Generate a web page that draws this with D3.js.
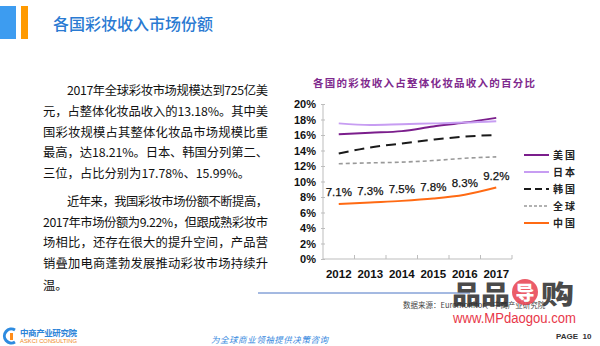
<!DOCTYPE html>
<html><head><meta charset="utf-8">
<script src="https://cdn.jsdelivr.net/npm/d3@7"></script>
<style>
html,body{margin:0;padding:0;background:#fff;}
svg{display:block;}
</style></head>
<body>
<svg id="c" width="600" height="346"></svg>
<script>
const years = ["2012","2013","2014","2015","2016","2017"];
const usa    = [16.1, 16.3, 16.5, 17.1, 17.6, 18.21];
const japan  = [17.5, 17.3, 17.4, 17.5, 17.6, 17.78];
const korea  = [13.6, 14.4, 14.9, 15.4, 15.8, 15.99];
const globalV= [12.3, 12.4, 12.5, 12.7, 13.0, 13.18];
const china  = [7.1, 7.3, 7.5, 7.8, 8.3, 9.22];
const seriesNames = ["美国","日本","韩国","全球","中国"];
const yTicks = [0,2,4,6,8,10,12,14,16,18,20];
const paragraphLines = [
  "2017年全球彩妆市场规模达到725亿美",
  "元，占整体化妆品收入的13.18%。其中美",
  "国彩妆规模占其整体化妆品市场规模比重",
  "最高，达18.21%。日本、韩国分列第二、",
  "三位，占比分别为17.78%、15.99%。",
  "近年来，我国彩妆市场份额不断提高，",
  "2017年市场份额为9.22%，但跟成熟彩妆市",
  "场相比，还存在很大的提升空间，产品营",
  "销叠加电商蓬勃发展推动彩妆市场持续升",
  "温。"
];

const svg = d3.select("#c");
const CJK = "'Noto Sans CJK SC', 'Noto Sans', sans-serif";
const ARIAL = "'Liberation Sans', Arial, sans-serif";

// header
svg.append("rect").attr("x",0).attr("y",6).attr("width",16).attr("height",33).attr("fill","#3d9cf0");
svg.append("rect").attr("x",21).attr("y",6).attr("width",7).attr("height",33).attr("fill","#ff9a00");
svg.append("text").attr("x",53).attr("y",30).text("各国彩妆收入市场份额")
  .attr("font-family",CJK).attr("font-size",16).attr("font-weight",500).attr("fill","#2a7ad2");

// paragraph
const lineY = [90,111,132,152,173,201,222,242,263,285];
const indent = [true,false,false,false,false,true,false,false,false,false];
const justify = [true,true,true,true,false,true,true,true,true,false];
paragraphLines.forEach((t,i)=>{
  const x0 = indent[i] ? 67 : 43;
  const tx = svg.append("text").attr("x",x0).attr("y",lineY[i]+5).text(t)
    .attr("font-family",CJK).attr("font-size",12.3).attr("fill","#111");
  if (justify[i]) tx.attr("textLength",268-x0).attr("lengthAdjust","spacing");
});

// chart
const x = d3.scaleBand().domain(years).range([323,512]);
const y = d3.scaleLinear().domain([0,20]).range([259,104]);
const cx = d => x(d) + x.bandwidth()/2;

svg.append("text").attr("x",313).attr("y",87).text("各国的彩妆收入占整体化妆品收入的百分比")
  .attr("font-family",CJK).attr("font-size",10.5).attr("font-weight",700).attr("fill","#7f2a8e")
  .attr("textLength",222).attr("lengthAdjust","spacing");

const yAxis = d3.axisLeft(y).tickValues(yTicks).tickFormat(d=>d+"%").tickSize(3).tickPadding(5);
const gy = svg.append("g").attr("transform","translate(323,0)").call(yAxis);
gy.select(".domain").attr("stroke","#bdbdbd").attr("d","M0,104V259");
gy.selectAll(".tick line").attr("stroke","#bdbdbd").attr("x2",2).attr("x1",-2);
gy.selectAll(".tick text").attr("font-family",ARIAL).attr("font-size",11).attr("font-weight",700).attr("fill","#111").attr("x",-7);

const xAxis = d3.axisBottom(x).tickSize(0).tickPadding(9);
const gx = svg.append("g").attr("transform","translate(0,259)").call(xAxis);
gx.select(".domain").attr("stroke","#bdbdbd").attr("d","M323,0H512");
gx.selectAll(".tick text").attr("font-family",ARIAL).attr("font-size",11.5).attr("font-weight",700).attr("fill","#111").attr("dy","0.85em");
years.forEach(yr=>{
  const bx = x(yr)+x.bandwidth();
  svg.append("line").attr("x1",bx).attr("x2",bx).attr("y1",259).attr("y2",255).attr("stroke","#bdbdbd");
});

const series = [
  {name:seriesNames[0], vals:usa, color:"#7b1e8c", w:2, dash:null},
  {name:seriesNames[1], vals:japan, color:"#c79df2", w:2, dash:null},
  {name:seriesNames[2], vals:korea, color:"#1a1a1a", w:2, dash:"10,6"},
  {name:seriesNames[3], vals:globalV, color:"#999999", w:1.6, dash:"4,3"},
  {name:seriesNames[4], vals:china, color:"#ff6a13", w:2, dash:null}
];
const line = d3.line().x((d,i)=>cx(years[i])).y(d=>y(d)).curve(d3.curveMonotoneX);
series.forEach(s=>{
  svg.append("path").datum(s.vals).attr("d",line).attr("fill","none")
    .attr("stroke",s.color).attr("stroke-width",s.w).attr("stroke-dasharray",s.dash);
});
// China labels
svg.selectAll(".lbl").data(china).enter().append("text")
  .attr("x",(d,i)=>cx(years[i])).attr("y",d=>y(d)-7.5).attr("text-anchor","middle")
  .text(d=>d.toFixed(1)+"%").attr("font-family",ARIAL).attr("font-size",11.5).attr("fill","#111").attr("stroke","#111").attr("stroke-width",0.25);

// legend
const legY = [155,172,189,206,223];
series.forEach((s,i)=>{
  svg.append("line").attr("x1",524).attr("x2",549).attr("y1",legY[i]).attr("y2",legY[i])
    .attr("stroke",s.color).attr("stroke-width",s.w).attr("stroke-dasharray",s.dash?(i===2?"7,4":"3,2"):null);
  svg.append("text").attr("x",553).attr("y",legY[i]+4).text(s.name)
    .attr("font-family",CJK).attr("font-size",10).attr("font-weight",700).attr("fill","#222")
    .attr("letter-spacing",2);
});

// bottom line & source
svg.append("line").attr("x1",258).attr("x2",470).attr("y1",293).attr("y2",293).attr("stroke","#4a74c4").attr("stroke-width",1);
svg.append("text").attr("x",403).attr("y",308).text("数据来源：Euromonitor、中商产业研究院")
  .attr("font-family",CJK).attr("font-size",7.5).attr("fill","#444");

// watermark
const wm = svg.append("g").attr("opacity",0.85);
wm.append("text").attr("x",452).attr("y",304).text("品品").attr("font-family",CJK).attr("font-size",26).attr("font-weight",900).attr("fill","#2b2b2b")
  .attr("textLength",58).attr("lengthAdjust","spacingAndGlyphs");
wm.append("circle").attr("cx",525).attr("cy",292).attr("r",13).attr("fill","#e8404f");
wm.append("text").attr("x",525).attr("y",300).attr("text-anchor","middle").text("导").attr("font-family",CJK).attr("font-size",19).attr("font-weight",900).attr("fill","#fff");
wm.append("text").attr("x",541).attr("y",304).text("购").attr("font-family",CJK).attr("font-size",26).attr("font-weight",900).attr("fill","#2b2b2b")
  .attr("textLength",33).attr("lengthAdjust","spacingAndGlyphs");
svg.append("text").attr("x",453).attr("y",323).text("www.MPdaogou.com").attr("font-family",ARIAL).attr("font-size",15.5).attr("fill","#e8384a")
  .attr("textLength",123).attr("lengthAdjust","spacingAndGlyphs");

svg.append("text").attr("x",556).attr("y",339).text("PAGE  10").attr("font-family",ARIAL).attr("font-size",8).attr("font-weight",700).attr("fill","#333")
  .attr("xml:space","preserve");

// bottom-left logo
const lg = svg.append("g");
lg.append("path").attr("d","M15,330 A7,7 0 1 0 15,342").attr("fill","none").attr("stroke","#2d8be0").attr("stroke-width",3);
lg.append("rect").attr("x",10).attr("y",333).attr("width",3).attr("height",7).attr("fill","#ff8c1a");
lg.append("text").attr("x",20).attr("y",336).text("中商产业研究院").attr("font-family",CJK).attr("font-size",8.5).attr("font-weight",700).attr("fill","#2d84d8")
  .attr("textLength",57).attr("lengthAdjust","spacing");
lg.append("text").attr("x",20).attr("y",343).text("ASKCI CONSULTING").attr("font-family",ARIAL).attr("font-size",5.5).attr("fill","#f08a28")
  .attr("textLength",57).attr("lengthAdjust","spacingAndGlyphs");

svg.append("text").attr("x",211).attr("y",343).text("为全球商业领袖提供决策咨询").attr("font-family",CJK).attr("font-size",8.5)
  .attr("font-style","italic").attr("fill","#3a8be0")
  .attr("textLength",117).attr("lengthAdjust","spacing");
</script>
</body></html>
